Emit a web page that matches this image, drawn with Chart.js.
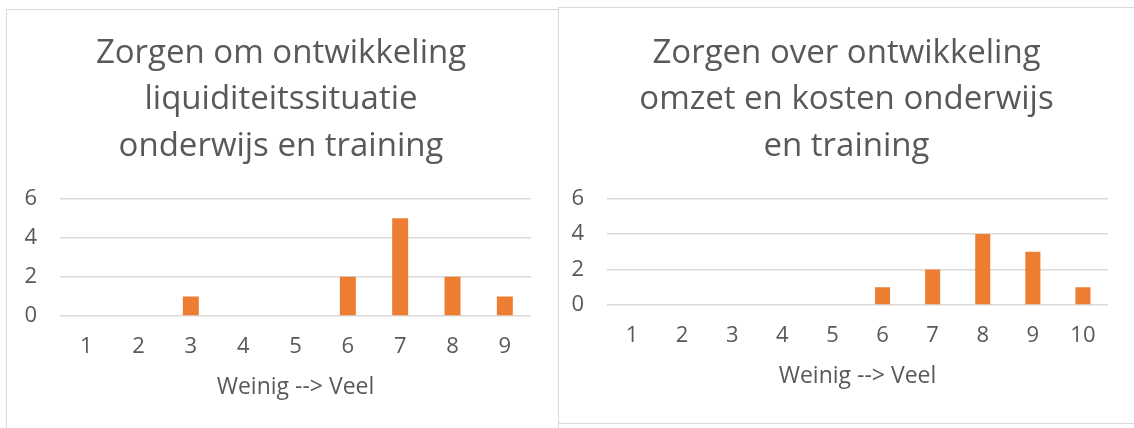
<!DOCTYPE html>
<html>
<head>
<meta charset="utf-8">
<script src="https://cdn.jsdelivr.net/npm/chart.js@4.4.1/dist/chart.umd.min.js"></script>
<style>
    html, body { margin: 0; padding: 0; background: #ffffff; width: 1134px; height: 428px; overflow: hidden; }
    .panel { position: absolute; border: 1.5px solid #d9d9d9; background: #ffffff; box-sizing: border-box; }
    #panelLeft { left: 6px; top: 9px; width: 553px; height: 430px; }
    #panelRight { left: 558px; top: 7px; width: 590px; height: 417px; }
    canvas { position: absolute; }
</style>
</head>
<body>
<div class="panel" id="panelLeft"></div>
<div class="panel" id="panelRight"></div>
<canvas id="chartLeft" style="left:7px; top:10px;" width="550" height="418"></canvas>
<canvas id="chartRight" style="left:559px; top:8px;" width="575" height="414"></canvas>

<script>
// =====================================================
// DATA
// =====================================================
const leftTitle = ['Zorgen om ontwikkeling', 'liquiditeitssituatie', 'onderwijs en training'];
const leftCategories = ['1', '2', '3', '4', '5', '6', '7', '8', '9'];
const leftValues = [0, 0, 1, 0, 0, 2, 5, 2, 1];

const rightTitle = ['Zorgen over ontwikkeling', 'omzet en kosten onderwijs', 'en training'];
const rightCategories = ['1', '2', '3', '4', '5', '6', '7', '8', '9', '10'];
const rightValues = [0, 0, 0, 0, 0, 1, 2, 4, 3, 1];

const axisTitle = 'Weinig --> Veel';
const yTicks = [0, 2, 4, 6];

// =====================================================
// STYLE
// =====================================================
const theme = {
    text: '#595959',
    grid: '#d9d9d9',
    bar: '#ed7d31',
    font: "'Open Sans', Lato, sans-serif"
};

function buildConfig(titleLines, labels, values, geo) {
    return {
        type: 'bar',
        data: {
            labels,
            datasets: [{
                data: values,
                backgroundColor: theme.bar,
                borderWidth: 0,
                barPercentage: geo.barPct,
                categoryPercentage: 1
            }]
        },
        options: {
            responsive: false,
            animation: false,
            layout: { padding: { left: 0, right: geo.padRight, top: 0, bottom: geo.padBottom } },
            plugins: {
                legend: { display: false },
                tooltip: { enabled: false },
                title: {
                    display: true,
                    text: titleLines,
                    color: theme.text,
                    font: { family: theme.font, size: 33, weight: '400', lineHeight: 1.41 },
                    padding: { top: geo.titleTop, bottom: geo.titleBottom }
                }
            },
            scales: {
                y: {
                    min: 0,
                    max: 6,
                    afterBuildTicks: (axis) => { axis.ticks = yTicks.map(v => ({ value: v })); },
                    afterFit: (axis) => { axis.width = geo.yWidth; },
                    grid: { color: theme.grid, lineWidth: 1.5, drawTicks: false },
                    border: { display: false },
                    ticks: { color: theme.text, padding: geo.yPad, font: { family: theme.font, size: 22 } }
                },
                // empty right-hand spacer so the title stays centred on the panel
                spacer: {
                    type: 'linear',
                    position: 'right',
                    afterFit: (axis) => { axis.width = geo.spacer; },
                    grid: { display: false },
                    border: { display: false },
                    ticks: { display: false }
                },
                x: {
                    grid: { display: false, drawTicks: false },
                    border: { display: false },
                    ticks: { color: theme.text, padding: geo.xPad, maxRotation: 0, font: { family: theme.font, size: 22 } },
                    title: {
                        display: true,
                        text: axisTitle,
                        color: theme.text,
                        font: { family: theme.font, size: 23 },
                        padding: { top: geo.xTitleTop, bottom: 0 }
                    }
                }
            }
        }
    };
}

new Chart(document.getElementById('chartLeft'), buildConfig(leftTitle, leftCategories, leftValues, {
    barPct: 0.305, padRight: 2, spacer: 24, padBottom: 27, titleTop: 20, titleBottom: 29,
    yWidth: 53, yPad: 23, xPad: 18, xTitleTop: -5
}));

new Chart(document.getElementById('chartRight'), buildConfig(rightTitle, rightCategories, rightValues, {
    barPct: 0.3, padRight: 0, spacer: 26, padBottom: 32, titleTop: 22, titleBottom: 29,
    yWidth: 48, yPad: 23, xPad: 18, xTitleTop: -5
}));
</script>
</body>
</html>
